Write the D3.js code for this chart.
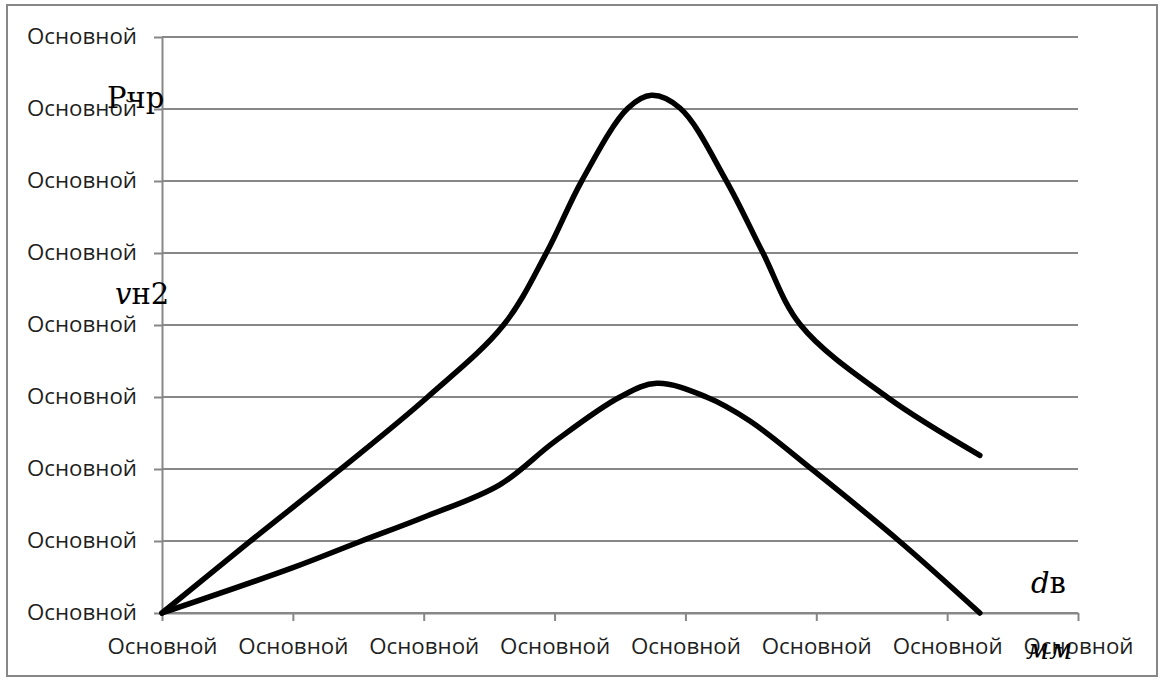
<!DOCTYPE html>
<html>
<head>
<meta charset="utf-8">
<script src="https://cdn.jsdelivr.net/npm/d3@7"></script>
<style>
    body { margin: 0; background: #fff; }
    line-chart { display: block; width: 1163px; height: 680px; }
</style>
</head>
<body>
<line-chart></line-chart>
<script>
// tick labels as they appear on the chart
const xTickLabels = ['Основной', 'Основной', 'Основной', 'Основной', 'Основной', 'Основной', 'Основной', 'Основной'];
const yTickLabels = ['Основной', 'Основной', 'Основной', 'Основной', 'Основной', 'Основной', 'Основной', 'Основной', 'Основной'];

// upper curve (Pчр) in axis units
const upperX = [0, 0.67, 1.36, 2.03, 2.61, 2.94, 3.21, 3.56, 3.74, 3.96, 4.31, 4.59, 4.88, 5.54, 6.25];
const upperY = [0, 0.99, 1.99, 3.00, 4.00, 5.01, 6.01, 7.01, 7.19, 7.01, 6.01, 5.01, 4.00, 3.00, 2.19];

// lower curve (vн2)
const lowerX = [0, 1.00, 1.51, 2.00, 2.58, 3.00, 3.50, 3.78, 4.16, 4.49, 4.97, 5.64, 6.25];
const lowerY = [0, 0.63, 0.99, 1.33, 1.78, 2.38, 3.00, 3.19, 3.00, 2.67, 1.99, 0.99, 0];

class LineChart extends HTMLElement {
    constructor() {
        super();

        this.width = 1163;
        this.height = 680;
        this.margin = { top: 37, right: 85, bottom: 67, left: 162 };

        this.svg = d3.select(this).append('svg')
            .attr('width', this.width)
            .attr('height', this.height)
            .attr('viewBox', [0, 0, this.width, this.height]);
    }
    //_________________________________________________________________________________________
    //
    connectedCallback() {
        this.x = d3.scaleLinear()
            .domain([0, xTickLabels.length - 1])
            .range([this.margin.left, this.width - this.margin.right]);

        this.y = d3.scaleLinear()
            .domain([0, yTickLabels.length - 1])
            .range([this.height - this.margin.bottom, this.margin.top]);

        this.#drawFrame();
        this.#drawAxes();
        this.#drawCurves();
        this.#drawLabels();
    }
    //____________________________________________________________
    //
    #drawFrame() {
        this.svg.append('rect')
            .attr('x', 7)
            .attr('y', 5)
            .attr('width', 1150)
            .attr('height', 671)
            .attr('fill', 'none')
            .attr('stroke', '#878787')
            .attr('stroke-width', 2);
    }
    //____________________________________________________________
    //
    #drawAxes() {
        const [x0, x1] = this.x.range();

        this.svg.append('g')
            .selectAll('line')
            .data(d3.range(yTickLabels.length))
            .join('line')
            .attr('x1', x0)
            .attr('x2', x1)
            .attr('y1', d => this.y(d))
            .attr('y2', d => this.y(d))
            .attr('stroke', '#878787')
            .attr('stroke-width', 2);

        const yAxis = this.svg.append('g')
            .attr('transform', `translate(${x0},0)`)
            .call(d3.axisLeft(this.y)
                .tickValues(d3.range(yTickLabels.length))
                .tickFormat(i => yTickLabels[i])
                .tickSizeInner(8)
                .tickSizeOuter(0)
                .tickPadding(17));

        const xAxis = this.svg.append('g')
            .attr('transform', `translate(0,${this.y(0)})`)
            .call(d3.axisBottom(this.x)
                .tickValues(d3.range(xTickLabels.length))
                .tickFormat(i => xTickLabels[i])
                .tickSizeInner(8)
                .tickSizeOuter(0)
                .tickPadding(18));

        for (const axis of [yAxis, xAxis]) {
            axis.selectAll('path, line')
                .attr('stroke', '#878787')
                .attr('stroke-width', 2);
            axis.selectAll('text')
                .attr('fill', '#1e1e1e')
                .attr('font-family', '"Open Sans", sans-serif')
                .attr('font-size', 21)
                .attr('textLength', 110)
                .attr('lengthAdjust', 'spacingAndGlyphs');
        }
    }
    //_______________________________________________________________________________________
    //
    #drawCurves() {
        const line = d3.line()
            .x(d => this.x(d[0]))
            .y(d => this.y(d[1]))
            .curve(d3.curveCatmullRom.alpha(0.5));

        const series = [
            d3.zip(upperX, upperY),
            d3.zip(lowerX, lowerY)
        ];

        this.svg.append('g')
            .selectAll('path')
            .data(series)
            .join('path')
            .attr('d', line)
            .attr('fill', 'none')
            .attr('stroke', '#000')
            .attr('stroke-width', 5.5)
            .attr('stroke-linecap', 'round')
            .attr('stroke-linejoin', 'round');
    }
    //_______________________________________________________________________________________
    //
    #drawLabels() {
        const serif = '"DejaVu Serif", "Liberation Serif", serif';
        const labels = [
            { x: 107, y: 108, size: 29, parts: [['Рчр', 'normal']] },
            { x: 115, y: 304, size: 29, parts: [['v', 'italic'], ['н2', 'normal']] },
            { x: 1031, y: 593, size: 29, parts: [['d', 'italic'], ['в', 'normal']] },
            { x: 1026, y: 659, size: 28, parts: [['мм', 'italic']] }
        ];

        const text = this.svg.append('g')
            .selectAll('text')
            .data(labels)
            .join('text')
            .attr('x', d => d.x)
            .attr('y', d => d.y)
            .attr('font-family', serif)
            .attr('font-size', d => d.size)
            .attr('fill', '#000');

        text.selectAll('tspan')
            .data(d => d.parts)
            .join('tspan')
            .attr('font-style', d => d[1])
            .text(d => d[0]);
    }
    //_______________________________________________________________________________________
    //
    static define(tag = 'line-chart') {
        customElements.define(tag, this);
    }
}

LineChart.define();
</script>
</body>
</html>
